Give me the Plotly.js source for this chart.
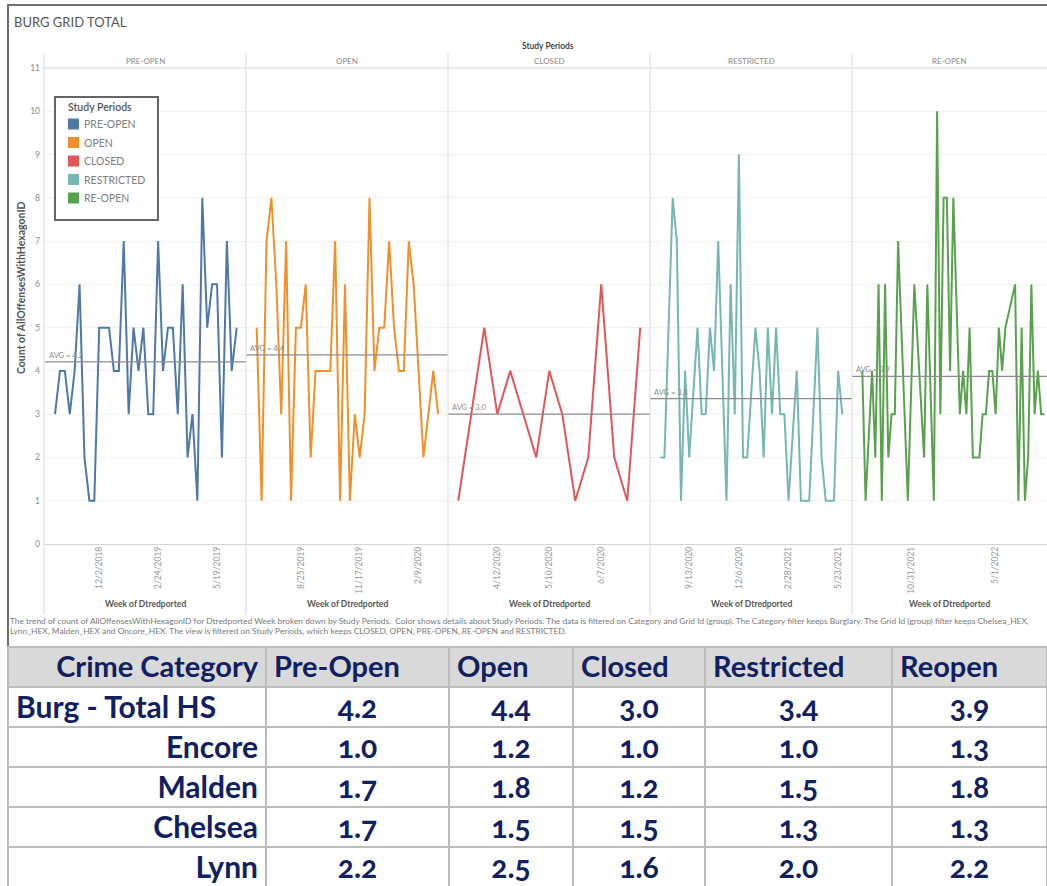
<!DOCTYPE html>
<html><head><meta charset="utf-8">
<script src="https://cdn.plot.ly/plotly-3.0.1.min.js"></script>
<style>
html,body{margin:0;padding:0;overflow:hidden;background:#fff;}
#chart{width:1047px;height:888px;}
.table text{font-variant-numeric: oldstyle-nums !important;}
</style></head><body><div id="chart"></div>
<script>
// ---------------- DATA ----------------
const periods = ['PRE-OPEN','OPEN','CLOSED','RESTRICTED','RE-OPEN'];
const periodColors = ['#4e79a7','#f28e2b','#e15759','#76b7b2','#59a14f'];
const startWeeks = ['2018-09-30','2019-06-23','2020-03-22','2020-07-26','2021-07-18'];

const preOpenCounts = [3,4,4,3,4,6,2,1,1,5,5,5,4,4,7,3,5,4,5,3,3,7,4,5,5,3,6,2,3,1,8,5,6,6,2,7,4,5];
const openCounts = [5,1,7,8,6,3,7,1,5,5,6,2,4,4,4,4,7,1,6,1,3,2,3,8,4,5,5,7,5,4,4,7,6,4,2,3,4,3];
const closedWeekOffsets = [0,2,3,4,6,7,8,9,10,11,12,13,14];
const closedCounts = [1,5,3,4,2,4,3,1,2,6,2,1,5];
const restrictedWeekOffsets = [0,1,3,4,5,6,7,9,10,11,12,13,14,16,17,18,19,20,21,23,24,25,26,27,28,29,30,31,33,34,35,36,38,39,40,41,42,43,44];
const restrictedCounts = [2,2,8,7,1,4,2,5,3,3,5,4,7,1,6,3,9,2,2,5,4,2,5,3,5,3,3,1,4,1,1,1,5,2,1,1,1,4,3];
const reopenWeekOffsets = [0,1,3,4,5,6,7,8,9,10,11,14,16,19,20,22,23,24,25,26,27,28,30,31,32,33,34,35,36,37,38,39,40,41,42,43,44,47,48,49,50,51,52,53,54,55,56];
const reopenCounts = [4,1,4,2,6,1,6,2,3,3,7,1,6,2,6,1,10,3,8,8,4,8,3,4,3,5,2,2,2,3,3,4,4,3,5,4,5,6,1,5,1,2,6,3,4,3,3];

const preOpenTicks = ['2018-12-02','2019-02-24','2019-05-19'];
const openTicks = ['2019-08-25','2019-11-17','2020-02-09'];
const closedTicks = ['2020-04-12','2020-05-10','2020-06-07'];
const restrictedTicks = ['2020-09-13','2020-12-06','2021-02-28','2021-05-23'];
const reopenTicks = ['2021-10-31','2022-05-01'];

const tableHeader = ['Crime Category','Pre-Open','Open','Closed','Restricted','Reopen'];
const tableRows = ['Burg - Total HS','Encore','Malden','Chelsea','Lynn'];
const preOpenAvgs = [4.2,1.0,1.7,1.7,2.2];
const openAvgs = [4.4,1.2,1.8,1.5,2.5];
const closedAvgs = [3.0,1.0,1.2,1.5,1.6];
const restrictedAvgs = [3.4,1.0,1.5,1.3,2.0];
const reopenAvgs = [3.9,1.3,1.8,1.3,2.2];

const captionLine1 = 'The trend of count of AllOffensesWithHexagonID for Dtredported Week broken down by Study Periods.  Color shows details about Study Periods. The data is filtered on Category and Grid Id (group). The Category filter keeps Burglary. The Grid Id (group) filter keeps Chelsea_HEX,';
const captionLine2 = 'Lynn_HEX, Malden_HEX and Oncore_HEX. The view is filtered on Study Periods, which keeps CLOSED, OPEN, PRE-OPEN, RE-OPEN and RESTRICTED.';

// ---------------- LAYOUT HELPERS ----------------
const W = 1047, H = 888;
const px = x => x / W;
const py = y => 1 - y / H;
const DAY = 864e5;
function weekDate(start, off) {
  const ms = Date.parse(start + 'T00:00:00Z') + off * 7 * DAY;
  return new Date(ms).toISOString().slice(0, 19).replace('T', ' ');
}
const seq = n => Array.from({length: n}, (_, i) => i);

const series = [
  {offs: seq(preOpenCounts.length), vals: preOpenCounts, ticks: preOpenTicks},
  {offs: seq(openCounts.length), vals: openCounts, ticks: openTicks},
  {offs: closedWeekOffsets, vals: closedCounts, ticks: closedTicks},
  {offs: restrictedWeekOffsets, vals: restrictedCounts, ticks: restrictedTicks},
  {offs: reopenWeekOffsets, vals: reopenCounts, ticks: reopenTicks}
];
// pane pixel edges and week-range padding (layout only)
const paneEdges = [45, 246, 448, 650, 852, 1047];
const paneWeekRange = [[-2.04, 38.9], [-2.18, 39.0], [-0.79, 14.75], [-2.49, 46.35], [-3.17, 56.8]];
const yTop = 68, yBot = 544;

const GRAY = '#8a8a8a';
const FONT = 'Lato, "Open Sans", sans-serif';
const NAVY = '#102060';

const traces = [];
const layout = {
  width: W, height: H,
  margin: {l: 0, r: 0, t: 0, b: 0},
  paper_bgcolor: '#fff', plot_bgcolor: '#fff',
  showlegend: false,
  font: {family: FONT, color: GRAY},
  shapes: [], annotations: []
};

series.forEach((s, i) => {
  const n = i + 1;
  const xa = 'x' + n, ya = 'y' + n;
  traces.push({
    type: 'scatter', mode: 'lines',
    x: s.offs.map(o => weekDate(startWeeks[i], o)),
    y: s.vals,
    xaxis: xa, yaxis: ya,
    line: {color: periodColors[i], width: 2},
    hoverinfo: 'skip', showlegend: false
  });
  layout['xaxis' + (n === 1 ? '' : n)] = {
    type: 'date', anchor: ya,
    domain: [px(paneEdges[i]), px(paneEdges[i + 1])],
    range: [weekDate(startWeeks[i], paneWeekRange[i][0]), weekDate(startWeeks[i], paneWeekRange[i][1])],
    tickvals: s.ticks, tickformat: '%-m/%-d/%Y', tickangle: -90,
    tickfont: {size: 8.5, color: '#999', family: FONT},
    showgrid: false, zeroline: false, showline: false, ticks: '', fixedrange: true
  };
  layout['yaxis' + (n === 1 ? '' : n)] = {
    anchor: xa, domain: [py(yBot), py(yTop)], range: [0, 11],
    tick0: 0, dtick: 1, showgrid: true, gridcolor: '#f1f1f1', gridwidth: 1,
    zeroline: true, zerolinecolor: '#d4d4d4', zerolinewidth: 1,
    showticklabels: i === 0, ticks: '', ticklabelstandoff: 4,
    tickfont: {size: 8.5, color: GRAY, family: FONT}, fixedrange: true
  };
  // average reference line computed from the data
  const avg = s.vals.reduce((a, b) => a + b, 0) / s.vals.length;
  layout.shapes.push({type: 'line', xref: xa + ' domain', yref: ya, x0: 0, x1: 1, y0: avg, y1: avg,
    line: {color: '#8c8c8c', width: 1.3}});
  layout.annotations.push({xref: xa + ' domain', yref: ya, x: 0.01, y: avg, xanchor: 'left', yanchor: 'bottom',
    text: 'AVG = ' + avg.toFixed(1), showarrow: false, font: {size: 7.5, color: GRAY}});
  // pane header
  const cx = (paneEdges[i] + paneEdges[i + 1]) / 2;
  layout.annotations.push({xref: 'paper', yref: 'paper', x: px(cx), y: py(61), text: periods[i],
    showarrow: false, xanchor: 'center', yanchor: 'middle', font: {size: 8, color: GRAY}});
  layout.annotations.push({xref: 'paper', yref: 'paper', x: px(cx), y: py(604), text: '<b>Week of Dtredported</b>',
    showarrow: false, xanchor: 'center', yanchor: 'middle', font: {size: 8.5, color: '#555'}});
});

// pane separators & header line
[44, 246, 448, 650, 852].forEach(x => layout.shapes.push({type: 'line', xref: 'paper', yref: 'paper',
  x0: px(x), x1: px(x), y0: py(615), y1: py(53), line: {color: '#d9d9d9', width: 1}}));
layout.shapes.push({type: 'line', xref: 'paper', yref: 'paper', x0: px(44), x1: 1, y0: py(68), y1: py(68),
  line: {color: '#d9d9d9', width: 1}});
// outer frame
layout.shapes.push({type: 'rect', xref: 'paper', yref: 'paper', x0: px(8), x1: 1.05, y0: py(647), y1: py(5),
  line: {color: '#707070', width: 2}, fillcolor: 'rgba(0,0,0,0)', layer: 'below'});

// legend box (manual)
layout.shapes.push({type: 'rect', xref: 'paper', yref: 'paper', x0: px(55), x1: px(158), y0: py(220), y1: py(97),
  line: {color: '#666', width: 2}, fillcolor: '#fff', layer: 'above'});
layout.annotations.push({xref: 'paper', yref: 'paper', x: px(66), y: py(107), xanchor: 'left', yanchor: 'middle',
  text: 'Study Periods', showarrow: false, font: {size: 10.5, color: '#555', weight: 600}});
periods.forEach((p, i) => {
  const yc = 124 + i * 18.5;
  layout.shapes.push({type: 'rect', xref: 'paper', yref: 'paper', x0: px(68), x1: px(79), y0: py(yc + 5.5), y1: py(yc - 5.5),
    line: {width: 0}, fillcolor: periodColors[i], layer: 'above'});
  layout.annotations.push({xref: 'paper', yref: 'paper', x: px(82), y: py(yc), xanchor: 'left', yanchor: 'middle',
    text: p, showarrow: false, font: {size: 10.5, color: '#808080'}});
});

// titles & captions
layout.annotations.push({xref: 'paper', yref: 'paper', x: px(12), y: py(22), xanchor: 'left', yanchor: 'middle',
  text: 'BURG GRID TOTAL', showarrow: false, font: {size: 13, color: '#555'}});
layout.annotations.push({xref: 'paper', yref: 'paper', x: px(548), y: py(46), xanchor: 'center', yanchor: 'middle',
  text: 'Study Periods', showarrow: false, font: {size: 8.5, color: '#333', weight: 600}});
layout.annotations.push({xref: 'paper', yref: 'paper', x: px(21), y: py(288), xanchor: 'center', yanchor: 'middle',
  text: '<b>Count of AllOffensesWithHexagonID</b>', textangle: -90, showarrow: false, font: {size: 10.5, color: '#555'}});
layout.annotations.push({xref: 'paper', yref: 'paper', x: px(8), y: py(621), xanchor: 'left', yanchor: 'middle',
  text: captionLine1, showarrow: false, font: {size: 8.4, color: '#7a7a7a'}});
layout.annotations.push({xref: 'paper', yref: 'paper', x: px(8), y: py(631), xanchor: 'left', yanchor: 'middle',
  text: captionLine2, showarrow: false, font: {size: 8.4, color: '#7a7a7a'}});

// table
const fmt = a => a.map(v => v.toFixed(1));
traces.push({
  type: 'table',
  domain: {x: [px(8), 1], y: [0, py(647)]},
  columnwidth: [258, 183, 124, 132, 187, 155],
  header: {
    values: tableHeader,
    align: ['right', 'left', 'left', 'left', 'left', 'left'],
    fill: {color: '#d9d9d9'}, line: {color: '#bdbdbd', width: 2},
    font: {family: FONT, size: 29, color: NAVY, weight: 700}, height: 40
  },
  cells: {
    values: [tableRows, fmt(preOpenAvgs), fmt(openAvgs), fmt(closedAvgs), fmt(restrictedAvgs), fmt(reopenAvgs)],
    align: [['left', 'right', 'right', 'right', 'right'], 'center', 'center', 'center', 'center', 'center'],
    fill: {color: '#fff'}, line: {color: '#bdbdbd', width: 2},
    font: {family: FONT, size: [30, 30, 30, 30, 30, 30], color: NAVY, weight: 700}, height: 40
  }
});

Plotly.newPlot('chart', traces, layout, {staticPlot: true, displayModeBar: false});
</script></body></html>
